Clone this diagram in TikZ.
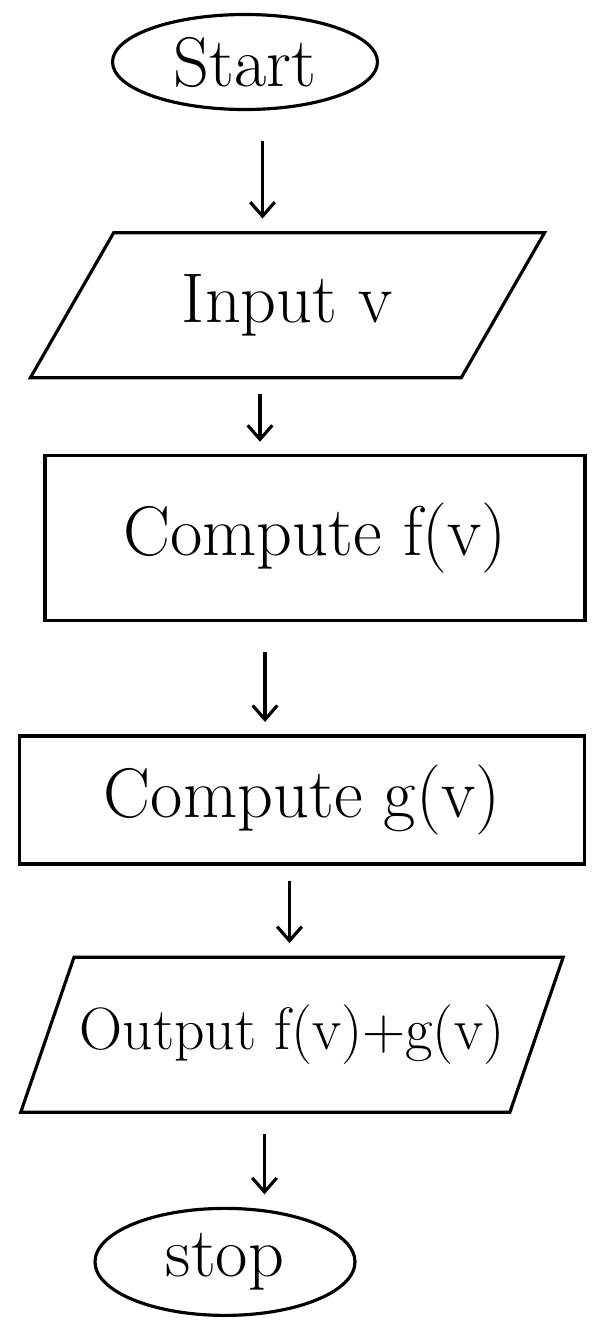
\documentclass[tikz,border=0pt]{standalone}
\usepackage{tikz}
\usetikzlibrary{shapes.geometric,arrows.meta,positioning}

\begin{document}
\begin{tikzpicture}[font=\fontsize{40}{46}\selectfont, line width=1.8pt, >={Straight Barb[length=8pt,width=14pt]}]
    \tikzset{
        term/.style={draw, ellipse, inner sep=0pt},
        io/.style={draw, trapezium, trapezium left angle=54, trapezium right angle=126, trapezium stretches=true},
        proc/.style={draw, rectangle},
        flow/.style={->, shorten <=0.6cm, shorten >=0.25cm}
    }
    \useasboundingbox (0,0) rectangle (12.08,-26.66);
    \node[term, minimum width=5.3cm, minimum height=1.9cm] (start) at (4.9,-1.24) {Start};
    \node[io, below=2.4cm of start, xshift=0.85cm, minimum width=10.3cm, minimum height=2.9cm] (input) {Input v};
    \node[proc, below=1.5cm of input, xshift=0.55cm, minimum width=10.8cm, minimum height=3.3cm] (fv) {Compute f(v)};
    \node[proc, below=2.24cm of fv, xshift=-0.26cm, minimum width=11.3cm, minimum height=2.56cm] (gv) {Compute g(v)};
    \node[io, below=1.8cm of gv, xshift=-0.2cm, minimum width=10.9cm, minimum height=3.1cm, inner xsep=0pt, font=\fontsize{34}{40}\selectfont] (output) {Output f(v)+g(v)};
    \node[term, below=1.86cm of output, xshift=-1.34cm, minimum width=5.2cm, minimum height=2.14cm] (stop) {stop};

    \draw[flow] ([xshift=0.35cm]start.south) -- ([xshift=0.35cm]start.south |- input.north);
    \draw[flow, shorten <=0.3cm] ([xshift=-0.55cm]input.south) -- ([xshift=-0.55cm]input.south |- fv.north);
    \draw[flow] ([xshift=-1cm]fv.south) -- ([xshift=-1cm]fv.south |- gv.north);
    \draw[flow, shorten <=0.3cm] ([xshift=-0.25cm]gv.south) -- ([xshift=-0.25cm]gv.south |- output.north);
    \draw[flow, shorten <=0.4cm] ([xshift=-0.55cm]output.south) -- ([xshift=-0.55cm]output.south |- stop.north);
\end{tikzpicture}
\end{document}
